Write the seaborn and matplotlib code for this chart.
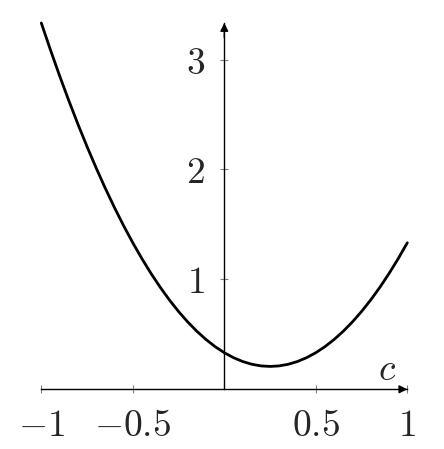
import matplotlib
matplotlib.use("Agg")
import matplotlib.pyplot as plt
import seaborn as sns

# values
c_vals = [-1.0, -0.95, -0.9, -0.85, -0.8, -0.75, -0.7, -0.65, -0.6, -0.55, -0.5,
          -0.45, -0.4, -0.35, -0.3, -0.25, -0.2, -0.15, -0.1, -0.05, 0.0,
          0.05, 0.1, 0.15, 0.2, 0.25, 0.3, 0.35, 0.4, 0.45, 0.5,
          0.55, 0.6, 0.65, 0.7, 0.75, 0.8, 0.85, 0.9, 0.95, 1.0]
f_vals = [3.333, 3.088, 2.853, 2.628, 2.413, 2.208, 2.013, 1.828, 1.653, 1.488, 1.333,
          1.188, 1.053, 0.928, 0.813, 0.708, 0.613, 0.528, 0.453, 0.388, 0.333,
          0.288, 0.253, 0.228, 0.213, 0.208, 0.213, 0.228, 0.253, 0.288, 0.333,
          0.388, 0.453, 0.528, 0.613, 0.708, 0.813, 0.928, 1.053, 1.188, 1.333]
x_ticks = [-1, -0.5, 0.5, 1]
x_labels = ["$-1$", "$-0.5$", "$0.5$", "$1$"]
y_ticks = [1, 2, 3]
y_labels = ["$1$", "$2$", "$3$"]

sns.set_style("white")
plt.rcParams["mathtext.fontset"] = "cm"
plt.rcParams["font.family"] = ["DejaVu Serif"]

fig = plt.figure(figsize=(4.44, 4.49), dpi=100)
ax = fig.add_axes([41.3 / 444, 1 - 389.3 / 449, 366 / 444, (389.3 - 23) / 449])

sns.lineplot(x=c_vals, y=f_vals, ax=ax, color="black", linewidth=2.0, clip_on=False)

ax.set_xlim(-1, 1)
ax.set_ylim(0, 3.333)

for s in ["top", "right"]:
    ax.spines[s].set_visible(False)
ax.spines["left"].set_position(("data", 0))
ax.spines["bottom"].set_position(("data", 0))
for s in ["left", "bottom"]:
    ax.spines[s].set_linewidth(1.0)
    ax.spines[s].set_color("black")

ax.set_xticks(x_ticks)
ax.set_xticklabels(x_labels)
ax.set_yticks(y_ticks)
ax.set_yticklabels(y_labels)
ax.tick_params(axis="both", direction="inout", length=6, width=0.8, color="#808080",
               labelsize=27, bottom=True, left=True)
ax.tick_params(axis="x", pad=10.5)
ax.tick_params(axis="y", pad=11)

# arrow heads
ax.annotate("", xy=(1, 0), xytext=(0.97, 0), xycoords="data",
            arrowprops=dict(arrowstyle="-|>", color="black", lw=1.0,
                            mutation_scale=12, shrinkA=0, shrinkB=0))
ax.annotate("", xy=(0, 3.333), xytext=(0, 3.2), xycoords="data",
            arrowprops=dict(arrowstyle="-|>", color="black", lw=1.0,
                            mutation_scale=12, shrinkA=0, shrinkB=0))

ax.text(0.89, 0.175, "$c$", fontsize=27, ha="center", va="center")

fig.savefig("out.png", dpi=100)
